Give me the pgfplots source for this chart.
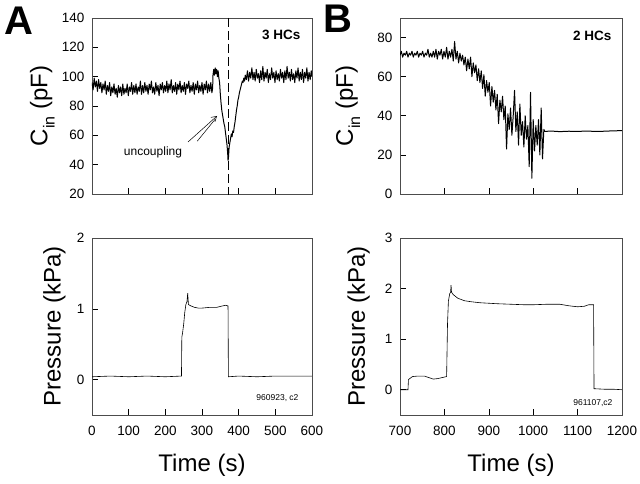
\documentclass[border=0pt]{standalone}
\usepackage{fontspec}
\setmainfont{Liberation Sans}
\usepackage{pgfplots}
\pgfplotsset{compat=1.18}
\usetikzlibrary{arrows.meta}

\pgfplotsset{
  panel/.style={
    scale only axis, width=220pt, height=176pt, anchor=south west,
    axis line style={black!70, line width=0.8pt},
    tick align=inside, tick pos=left,
    major tick length=6pt,
    tick style={black, line width=0.6pt},
    tick label style={font=\fontsize{13.5}{15}\selectfont},
    /pgf/number format/assume math mode=true,
    /pgf/number format/1000 sep={},
    xticklabel style={yshift=-8pt},
    yticklabel style={xshift=-4pt},
    label style={font=\fontsize{24}{28}\selectfont},
    xlabel style={anchor=base, at={(axis description cs:0.5,-0.322)}},
  },
  trace/.style={black, line width=0.6pt},
  noisy/.style={black, line width=1pt, line join=round},
}
\newcommand{\cin}{C\raisebox{-0.3em}{\fontsize{16}{16}\selectfont in} (pF)}

\begin{document}
\begin{tikzpicture}
\useasboundingbox (0,0) rectangle (640pt,483pt);

% ---- A, capacitance
\begin{axis}[panel, at={(92pt,289pt)},
    xmin=0, xmax=600, ymin=20, ymax=140,
    xtick={0,100,...,600}, xticklabels={},
    ytick={20,40,...,140},
    ylabel={\cin},
    ylabel style={anchor=base, at={(axis description cs:-0.203,0.5)}},
  ]
\addplot[noisy] coordinates {
(0,96) (3,91) (6,99) (9,93) (12,97) (15,90) (18,98) (21,92) (24,96) (27,89)
(30,95) (33,91) (36,97) (39,88) (42,94) (45,90) (48,96) (51,87) (54,93) (57,89)
(60,95) (63,88) (66,92) (69,86) (72,94) (75,89) (78,93) (81,87) (84,95) (87,88)
(90,92) (93,89) (96,95) (99,87) (102,93) (105,90) (108,96) (111,88) (114,94) (117,89)
(120,95) (123,88) (126,93) (129,90) (132,97) (135,88) (138,94) (141,89) (144,96) (147,90)
(150,94) (153,88) (156,95) (159,91) (162,97) (165,89) (168,93) (171,88) (174,96) (177,90)
(180,94) (183,87) (186,95) (189,91) (192,96) (195,89) (198,94) (201,90) (204,97) (207,89)
(210,95) (213,91) (216,98) (219,89) (222,94) (225,90) (228,96) (231,88) (234,95) (237,91)
(240,97) (243,89) (246,94) (249,90) (252,96) (255,88) (258,95) (261,92) (264,97) (267,89)
(270,94) (273,90) (276,96) (279,88) (282,95) (285,91) (288,97) (291,89) (294,94) (297,90)
(300,96) (303,88) (306,95) (309,91) (312,97) (315,89) (318,95) (321,90) (324,96) (327,89)
(329,92) (330,101) (332,105) (334,101) (336,106) (338,102) (340,105) (342,100) (344,104) (346,99)
(348,96) (350,88) (352,82) (354,77) (356,74) (358,71) (360,68) (362,66) (364,62) (366,58)
(368,54) (370,48) (371,43) (372,44) (373,48) (374,52) (376,55) (378,58) (380,61) (382,59)
(384,63) (386,62) (388,66) (390,69) (392,73) (394,77) (396,80) (398,84) (400,86) (402,89)
(404,91) (406,93) (408,95) (410,97) (412,96) (414,99) (416,97) (418,101)
(421,98) (424,104) (427,97) (430,103) (433,99) (436,106) (439,98) (442,103) (445,97) (448,105)
(451,99) (454,102) (457,96) (460,104) (463,98) (466,107) (469,97) (472,103) (475,99) (478,105)
(481,96) (484,102) (487,98) (490,106) (493,99) (496,103) (499,96) (502,104) (505,98) (508,102)
(511,97) (514,105) (517,99) (520,103) (523,96) (526,104) (529,98) (532,107) (535,99) (538,103)
(541,97) (544,105) (547,98) (550,102) (553,96) (556,104) (559,99) (562,106) (565,97) (568,103)
(571,98) (574,105) (577,96) (580,103) (583,99) (586,106) (589,97) (592,103) (595,98) (598,104)
(600,100)
};
\draw[black, line width=0.7pt, dash pattern=on 9pt off 4pt]
  (axis cs:372,140) -- (axis cs:372,-130.7);
\draw[black, line width=0.5pt, -{Straight Barb[length=5pt,width=6pt]}]
  (axis cs:262,55.5) -- (axis cs:341,73.2);
\draw[black, line width=0.5pt] (axis cs:287,56) -- (axis cs:336,71);
\end{axis}

% ---- A, pressure
\begin{axis}[panel, at={(92pt,68pt)}, height=177pt,
    xmin=0, xmax=600, ymin=-0.5, ymax=2,
    xtick={0,100,...,600}, ytick={0,1,2},
    xlabel={Time (s)}, ylabel={Pressure (kPa)},
    ylabel style={anchor=base, at={(axis description cs:-0.143,0.5)}},
  ]
\addplot[trace] coordinates {
(0,0.04) (50,0.05) (100,0.04) (150,0.05) (200,0.04) (244,0.05) (245,0.6) (247,0.66)
(250,0.78) (253,0.95) (256,1.06) (259,1.1) (261,1.22) (263,1.06) (270,1.04) (280,1.02)
(290,1.01) (300,1.01) (320,1.02) (340,1.02) (355,1.04) (365,1.05) (371,1.04) (372,0.04)
(400,0.05) (450,0.04) (500,0.05) (550,0.05) (600,0.05)
};
\end{axis}

% ---- B, capacitance
\begin{axis}[panel, at={(400pt,289pt)}, width=222pt,
    xmin=700, xmax=1200, ymin=0, ymax=90,
    xtick={700,800,...,1200}, xticklabels={},
    ytick={0,20,...,80},
    ylabel={\cin},
    ylabel style={anchor=base, at={(axis description cs:-0.212,0.5)}},
  ]
\addplot[noisy] coordinates {
(700,71) (703,73) (706,70) (709,72) (712,71) (715,73) (718,70) (721,72) (724,71) (727,73)
(730,70) (733,72) (736,71) (739,73) (742,70) (745,72) (748,71) (751,73) (754,70) (757,72)
(760,71) (763,74) (766,70) (769,72) (772,70) (775,73) (778,70) (781,74) (784,69) (787,73)
(790,71) (793,74) (796,69) (799,73) (802,70) (805,75) (808,69) (811,73) (814,70) (817,74)
(820,68) (823,78) (826,69) (829,73) (832,67) (835,72) (838,68) (841,71) (844,66) (847,70)
(850,63) (853,69) (856,64) (859,70) (862,60) (865,67) (868,62) (871,66) (874,58) (877,64)
(880,57) (883,63) (886,54) (889,61) (892,50) (895,58) (898,52) (901,57) (904,45) (907,55)
(910,47) (913,53) (916,43) (919,51) (922,36) (925,48) (928,42) (931,50) (934,38) (937,45)
(940,23) (943,41) (946,33) (949,44) (952,30) (955,40) (958,53) (961,32) (964,42) (967,25)
(970,46) (973,30) (976,37) (979,24) (982,40) (985,28) (988,35) (991,14) (994,52) (997,8)
(1000,38) (1003,22) (1006,35) (1009,25) (1012,38) (1015,20) (1018,44) (1021,18) (1024,33) (1026,32)
(1040,32.2) (1060,31.9) (1080,32.1) (1100,32) (1120,32.2) (1140,32) (1160,32.1) (1180,32.3) (1200,32.4)
};
\end{axis}

% ---- B, pressure
\begin{axis}[panel, at={(400pt,68pt)}, width=222pt, height=177pt,
    xmin=700, xmax=1200, ymin=-0.5, ymax=3,
    xtick={700,800,...,1200}, ytick={0,1,2,3},
    xlabel={Time (s)}, ylabel={Pressure (kPa)},
    ylabel style={anchor=base, at={(axis description cs:-0.158,0.5)}},
  ]
\addplot[trace] coordinates {
(700,0) (718,0) (719,0.2) (722,0.22) (728,0.26) (740,0.27) (755,0.27) (765,0.24)
(775,0.21) (785,0.22) (795,0.24) (805,0.26) (807,1.3) (809,1.75) (812,1.9) (814,1.93)
(815,2.07) (816,1.93) (820,1.88) (830,1.81) (845,1.76) (860,1.74) (880,1.72) (900,1.71)
(920,1.7) (950,1.69) (980,1.68) (1000,1.68) (1030,1.69) (1060,1.69) (1080,1.66) (1100,1.64)
(1115,1.65) (1125,1.68) (1136,1.68) (1137,0.02) (1160,0.01) (1180,0.01) (1200,0)
};
\end{axis}

% panel letters and notes
\node[font=\fontsize{40}{44}\selectfont\bfseries] at (19pt,462.5pt) {A};
\node[font=\fontsize{40}{44}\selectfont\bfseries] at (338pt,464.5pt) {B};
\node[font=\fontsize{13.5}{15}\selectfont\bfseries, anchor=east] at (304pt,448pt) {3 HCs};
\node[font=\fontsize{13.5}{15}\selectfont\bfseries, anchor=east] at (615pt,447pt) {2 HCs};
\node[font=\fontsize{12}{14}\selectfont] at (153pt,331pt) {uncoupling};
\node[font=\fontsize{8.5}{10}\selectfont, anchor=east] at (302pt,85pt) {960923, c2};
\node[font=\fontsize{8.5}{10}\selectfont, anchor=east] at (616pt,80pt) {961107,c2};
\end{tikzpicture}
\end{document}
